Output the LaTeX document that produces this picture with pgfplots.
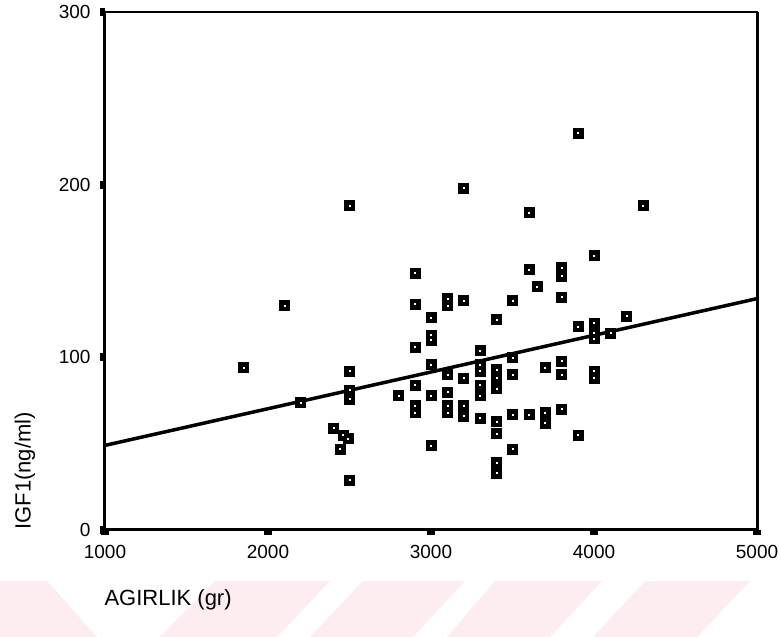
\documentclass[border=0pt]{standalone}
\usepackage{fontspec}
\setmainfont{Liberation Sans}
\usepackage{pgfplots}
\usepackage{pgfplotstable}
\pgfplotsset{compat=1.18}
\definecolor{wm}{RGB}{253,236,240}
\pgfplotstableread{
x y
1850 94
2100 130
2200 74
2400 59
2440 47
2460 55
2490 53
2500 29
2500 188
2500 92
2500 81
2500 76
2800 78
2900 149
2900 131
2900 106
2900 84
2900 72
2900 68
3000 123
3000 113
3000 110
3000 96
3000 78
3000 49
3100 134
3100 130
3100 90
3100 80
3100 72
3100 68
3200 198
3200 133
3200 88
3200 72
3200 66
3300 104
3300 96
3300 92
3300 84
3300 78
3300 65
3400 122
3400 93
3400 88
3400 82
3400 63
3400 56
3400 39
3400 33
3500 133
3500 100
3500 90
3500 67
3500 47
3600 184
3600 151
3600 67
3650 141
3700 94
3700 68
3700 62
3800 152
3800 147
3800 135
3800 98
3800 90
3800 70
3900 230
3900 118
3900 55
4000 159
4000 120
4000 114
4000 111
4000 92
4000 88
4100 114
4200 124
4300 188
}\pts
\begin{document}
\begin{tikzpicture}[x=1bp,y=1bp]
\useasboundingbox (-105,-107) rectangle (675,530);
% watermark bands
\fill[wm] (-105,-51) -- (-58,-51) -- (-8,-107) -- (-105,-107) -- cycle;
\fill[wm] (110,-51) -- (225,-51) -- (172,-107) -- (55,-107) -- cycle;
\fill[wm] (258,-51) -- (360,-51) -- (308,-107) -- (205,-107) -- cycle;
\fill[wm] (390,-51) -- (497,-51) -- (445,-107) -- (342,-107) -- cycle;
\fill[wm] (540,-51) -- (645,-51) -- (592,-107) -- (488,-107) -- cycle;
\begin{axis}[
  at={(0,0)}, anchor=south west,
  scale only axis, width=652bp, height=518bp,
  xmin=1000, xmax=5000, ymin=0, ymax=300,
  xtick={1000,2000,3000,4000,5000},
  ytick={0,100,200,300},
  xtick pos=bottom, ytick pos=left,
  tick align=outside,
  major tick length=5bp,
  tick style={line width=8bp, black},
  axis line style={line width=1.5bp},
  /pgf/number format/assume math mode=true,
  /pgf/number format/set thousands separator={},
  ticklabel style={font=\fontsize{19bp}{21bp}\selectfont},
  xticklabel style={yshift=-7bp},
  yticklabel style={xshift=-6bp},
  xlabel={AGIRLIK (gr)},
  ylabel={IGF1(ng/ml)},
  label style={font=\fontsize{22bp}{26bp}\selectfont},
  xlabel style={at={(axis description cs:0,0)}, anchor=west, xshift=-4bp, yshift=-70bp},
  ylabel style={at={(axis description cs:-0.1227,0.114)}, anchor=center},
  clip=false,
]
\draw[line width=3bp] (rel axis cs:0,1) -- (rel axis cs:0,0) -- (rel axis cs:1,0) -- (rel axis cs:1,1);
\addplot[black, line width=3.5bp] coordinates {(1000,49) (5000,134)};
\addplot[only marks, mark=square*, mark size=5bp, mark options={draw=none, fill=black}] table {\pts};
\addplot[only marks, mark=square*, mark size=1.5bp, mark options={draw=none, fill=white}] table {\pts};
\end{axis}
\end{tikzpicture}
\end{document}
